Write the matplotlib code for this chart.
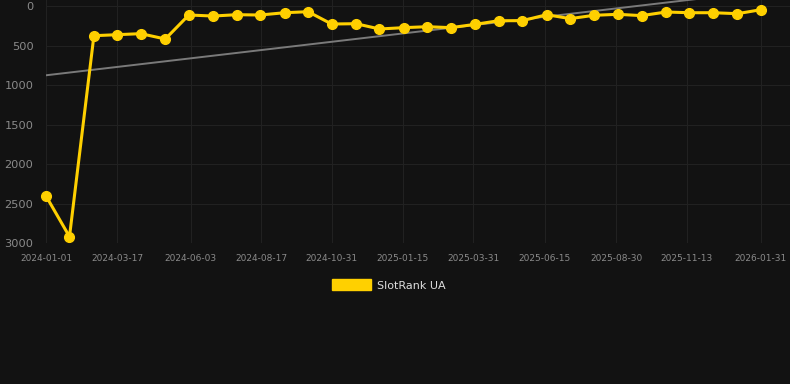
import matplotlib
matplotlib.use('Agg')
import matplotlib.pyplot as plt
import numpy as np
from matplotlib.patches import Patch
from datetime import datetime, timedelta

# Rank history (lower is better, axis inverted)
dates = ['2024-01-01', '2024-01-26', '2024-02-21', '2024-03-17', '2024-04-11',
         '2024-05-07', '2024-06-01', '2024-06-27', '2024-07-22', '2024-08-16',
         '2024-09-11', '2024-10-06', '2024-10-31', '2024-11-26', '2024-12-21',
         '2025-01-16', '2025-02-10', '2025-03-07', '2025-04-02', '2025-04-27',
         '2025-05-22', '2025-06-17', '2025-07-12', '2025-08-06', '2025-09-01',
         '2025-09-26', '2025-10-22', '2025-11-16', '2025-12-11', '2026-01-06',
         '2026-01-31']
ranks = [2405, 2920, 376, 363, 350, 418, 114, 127, 110, 114,
         85, 72, 228, 224, 291, 274, 262, 274, 232, 186,
         186, 110, 160, 118, 105, 122, 76, 85, 85, 97,
         47]

# trend line end points
trend_dates = ['2024-01-01', '2026-01-31']
trend_values = [877, -184]

tick_labels = ['2024-01-01', '2024-03-17', '2024-06-03', '2024-08-17', '2024-10-31',
               '2025-01-15', '2025-03-31', '2025-06-15', '2025-08-30', '2025-11-13',
               '2026-01-31']
y_ticks = [0, 500, 1000, 1500, 2000, 2500, 3000]

BG = '#121212'
GOLD = '#FFD000'

x = [datetime.strptime(d, '%Y-%m-%d') for d in dates]
tx = [datetime.strptime(d, '%Y-%m-%d') for d in trend_dates]
ticks = [datetime.strptime(d, '%Y-%m-%d') for d in tick_labels]

fig = plt.figure(figsize=(7.9, 3.84), dpi=100, facecolor=BG)
ax = fig.add_axes([46 / 790, 1 - 243 / 384, 744 / 790, 243 / 384])
ax.set_facecolor(BG)

ax.plot(tx, trend_values, color='#7a7a7a', linewidth=1.4, zorder=2)
ax.plot(x, ranks, color=GOLD, linewidth=2.2, marker='o', markersize=7,
        zorder=3, clip_on=False)

ax.set_xlim(x[0], x[0] + timedelta(days=792))
ax.set_ylim(3000, -76)
ax.set_xticks(ticks)
ax.set_xticklabels(tick_labels)
ax.set_yticks(y_ticks)

ax.grid(True, color='#212121', linewidth=0.8)
for s in ax.spines.values():
    s.set_visible(False)
ax.tick_params(axis='both', length=0, colors='#8a8a8a')
ax.tick_params(axis='x', labelsize=6.5, pad=8)
ax.tick_params(axis='y', labelsize=8.2, pad=9)

handle = Patch(facecolor=GOLD, edgecolor=GOLD)
fig.legend([handle], ['SlotRank UA'], loc='center', bbox_to_anchor=(389 / 790, 1 - 285 / 384),
           frameon=False, fontsize=8, labelcolor='#dddddd', handlelength=3.5,
           handleheight=1.1, handletextpad=0.5)

fig.savefig('out.png', dpi=100, facecolor=BG)
